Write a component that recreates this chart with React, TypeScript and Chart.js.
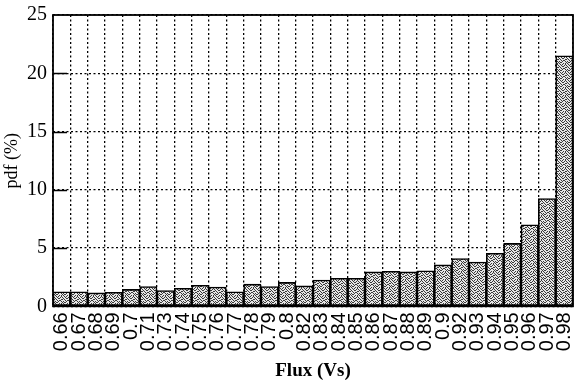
import { useEffect, useRef } from "react";
import { Chart, registerables } from "chart.js";

Chart.register(...registerables);

// Flux bins (Vs) and the probability density of each bin (%)
const fluxLabels = [
  "0.66", "0.67", "0.68", "0.69", "0.7", "0.71", "0.73", "0.74", "0.75", "0.76",
  "0.77", "0.78", "0.79", "0.8", "0.82", "0.83", "0.84", "0.85", "0.86", "0.87",
  "0.88", "0.89", "0.9", "0.92", "0.93", "0.94", "0.95", "0.96", "0.97", "0.98",
];
const pdfPercent = [
  1.25, 1.25, 1.15, 1.2, 1.45, 1.7, 1.35, 1.55, 1.8, 1.65,
  1.25, 1.9, 1.7, 2.05, 1.75, 2.25, 2.4, 2.4, 2.95, 3.0,
  2.95, 3.05, 3.55, 4.1, 3.8, 4.55, 5.4, 7.0, 9.25, 21.5,
];
const yMin = 0;
const yMax = 25;
const yStep = 5;

const serif = "'Liberation Serif', 'DejaVu Serif', serif";
const sans = "'Liberation Sans', Arial, sans-serif";

// Stippled grey fill for the bars (8x8 dot bitmap, '1' = dark dot)
const stippleRows = [
  "10100100",
  "01001010",
  "00110001",
  "10000110",
  "01011000",
  "00100101",
  "11000010",
  "00010101",
];

function makeStipple(): CanvasPattern | string {
  const c = document.createElement("canvas");
  c.width = 8;
  c.height = 8;
  const g = c.getContext("2d");
  if (!g) return "#a4a4a4";
  g.fillStyle = "#e6e6e6";
  g.fillRect(0, 0, 8, 8);
  g.fillStyle = "#3a3a3a";
  stippleRows.forEach((row, y) => {
    for (let x = 0; x < row.length; x++) {
      if (row[x] === "1") g.fillRect(x, y, 1, 1);
    }
  });
  return g.createPattern(c, "repeat") ?? "#a4a4a4";
}

// Solid frame around the plot plus short inward tick marks on the y axis
const framePlugin = {
  id: "frame",
  afterDatasetsDraw(chart: any) {
    const { ctx, chartArea: a, scales } = chart;
    ctx.save();
    ctx.strokeStyle = "#000";
    ctx.lineWidth = 1.8;
    ctx.strokeRect(a.left, a.top, a.right - a.left, a.bottom - a.top);
    ctx.lineWidth = 1.5;
    scales.y.ticks.forEach((t: any) => {
      if (t.value <= yMin || t.value >= yMax) return;
      const py = Math.round(scales.y.getPixelForValue(t.value)) + 0.5;
      ctx.beginPath();
      ctx.moveTo(a.left, py);
      ctx.lineTo(a.left + 14, py);
      ctx.stroke();
    });
    ctx.restore();
  },
};

export default function App() {
  const canvasRef = useRef<HTMLCanvasElement | null>(null);

  useEffect(() => {
    const canvas = canvasRef.current;
    if (!canvas) return;
    const chart = new Chart(canvas, {
      type: "bar",
      data: {
        labels: fluxLabels,
        datasets: [
          {
            data: pdfPercent,
            backgroundColor: makeStipple() as any,
            borderColor: "#000",
            borderWidth: 1.6,
            borderSkipped: false,
            barPercentage: 1,
            categoryPercentage: 1,
          },
        ],
      },
      options: {
        responsive: false,
        animation: false,
        events: [],
        layout: { padding: { top: 0, right: 3, left: 3, bottom: 2 } },
        plugins: {
          legend: { display: false },
          tooltip: { enabled: false },
        },
        scales: {
          x: {
            // the last rotated label sits inside the bar's own width, so no extra side room
            afterFit: (scale: any) => {
              scale.paddingRight = 0;
              scale.paddingLeft = 0;
            },
            grid: {
              display: true,
              color: "#000",
              lineWidth: 1.3,
              drawTicks: false,
              offset: true,
            },
            border: { display: false, dash: [2, 2.5] },
            ticks: {
              color: "#000",
              minRotation: 90,
              maxRotation: 90,
              autoSkip: false,
              padding: 6,
              font: { family: sans, size: 20 },
            },
            title: {
              display: true,
              text: "Flux (Vs)",
              color: "#000",
              font: { family: serif, size: 19, weight: "bold", lineHeight: 1.2 },
              padding: { top: 2, bottom: 0 },
            },
          },
          y: {
            min: yMin,
            max: yMax,
            grid: {
              color: "#000",
              lineWidth: 1.3,
              drawTicks: false,
            },
            border: { display: false, dash: [2, 2.5] },
            ticks: {
              stepSize: yStep,
              color: "#000",
              padding: 6,
              font: { family: serif, size: 20, lineHeight: 0.9 },
            },
            title: {
              display: true,
              text: "pdf (%)",
              color: "#000",
              font: { family: serif, size: 18, lineHeight: 1.0 },
              padding: { top: 0, bottom: 0 },
            },
          },
        },
      },
      plugins: [framePlugin],
    });
    return () => chart.destroy();
  }, []);

  return (
    <div style={{ position: "fixed", left: 0, top: 0, width: 576, height: 384, background: "#fff" }}>
      <canvas ref={canvasRef} width={576} height={384} style={{ display: "block" }} />
    </div>
  );
}
